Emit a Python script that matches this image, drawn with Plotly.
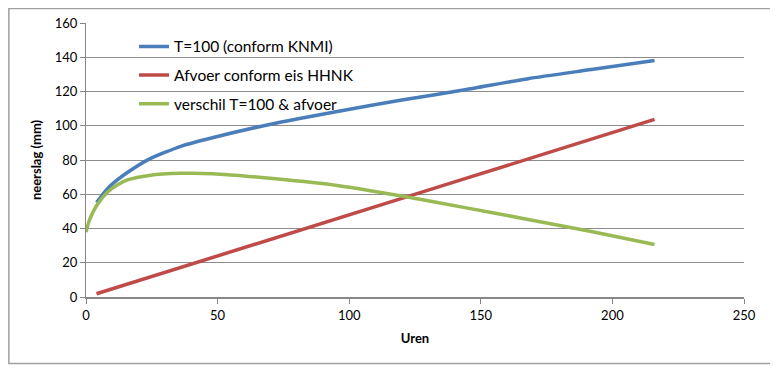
import plotly.graph_objects as go

# Data
uren = [4, 8, 12, 16, 24, 36, 48, 72, 96, 120, 144, 168, 192, 216]
t100_knmi = [55.2, 63, 68.5, 73, 80.5, 88, 93, 101.5, 108.5, 115, 121, 127.5, 132.8, 138.1]
afvoer_hhnk = [1.9, 3.8, 5.8, 7.7, 11.5, 17.3, 23.0, 34.6, 46.1, 57.6, 69.1, 80.6, 92.2, 103.7]

uren_verschil = [0, 1, 2, 4, 8, 12, 16, 24, 36, 48, 72, 96, 120, 144, 168, 192, 216]
verschil = [38, 43.5, 47.5, 53.3, 61, 65.5, 68.5, 71, 72.2, 72, 69, 65, 59, 52.2, 45.3, 38.2, 30.7]

names = ["T=100 (conform KNMI)", "Afvoer conform eis HHNK", "verschil T=100 & afvoer"]
colors = ["#4A7EBB", "#BE4B48", "#98B954"]

FONT = "Lato, 'Open Sans', sans-serif"

fig = go.Figure()
fig.add_trace(go.Scatter(x=uren, y=t100_knmi, mode="lines", name=names[0],
                         line=dict(color=colors[0], width=3.5, shape="spline", smoothing=0.6),
                         legendgroup="a"))
fig.add_trace(go.Scatter(x=uren, y=afvoer_hhnk, mode="lines", name=names[1],
                         line=dict(color=colors[1], width=3.5),
                         legendgroup="b"))
fig.add_trace(go.Scatter(x=uren_verschil, y=verschil, mode="lines", name=names[2],
                         line=dict(color=colors[2], width=3.5, shape="spline", smoothing=0.6),
                         legendgroup="c"))

W, H = 770, 362
ML, MR, MT, MB = 78, 33.5, 15.3, 73.3

# The page body has an 8px default margin, so the figure is sized to fit the window
fig.update_layout(
    template="none",
    width=W, height=H,
    margin=dict(l=ML, r=MR, t=MT, b=MB, autoexpand=False),
    paper_bgcolor="white", plot_bgcolor="white",
    font=dict(family=FONT, size=13, color="#000000"),
    showlegend=True,
    legend=dict(x=0.073, y=0.975, xanchor="left", yanchor="top",
                bgcolor="rgba(0,0,0,0)", font=dict(size=15.5, family=FONT),
                tracegroupgap=5.5, itemwidth=30),
    xaxis=dict(range=[0, 250], tickvals=[0, 50, 100, 150, 200, 250],
               showgrid=False, zeroline=False, automargin=False,
               showline=True, linecolor="#868686", linewidth=2,
               ticks="outside", ticklen=5, tickcolor="#868686", tickwidth=1,
               title=dict(text="<b>Uren</b>", font=dict(size=13, family=FONT), standoff=12)),
    yaxis=dict(range=[0, 160], tickvals=[0, 20, 40, 60, 80, 100, 120, 140, 160],
               showgrid=True, gridcolor="#8C8C8C", gridwidth=1, zeroline=False, automargin=False,
               showline=True, linecolor="#868686", linewidth=1,
               ticks="outside", ticklen=5, tickcolor="#868686",
               title=dict(text="<b>neerslag (mm)</b>", font=dict(size=13, family=FONT), standoff=10)),
)

# Outer chart border (converted from figure pixels to paper coords)
pw, ph = W - ML - MR, H - MT - MB
bottom = H - MB


def px_x(v):
    return (v - ML) / pw


def px_y(v):
    return (bottom - v) / ph


fig.add_shape(type="rect", xref="paper", yref="paper",
              x0=px_x(0.8), x1=px_x(765), y0=px_y(355), y1=px_y(0.8),
              line=dict(color="#A0A0A0", width=1.5), layer="above")

fig.write_html("out.html")
